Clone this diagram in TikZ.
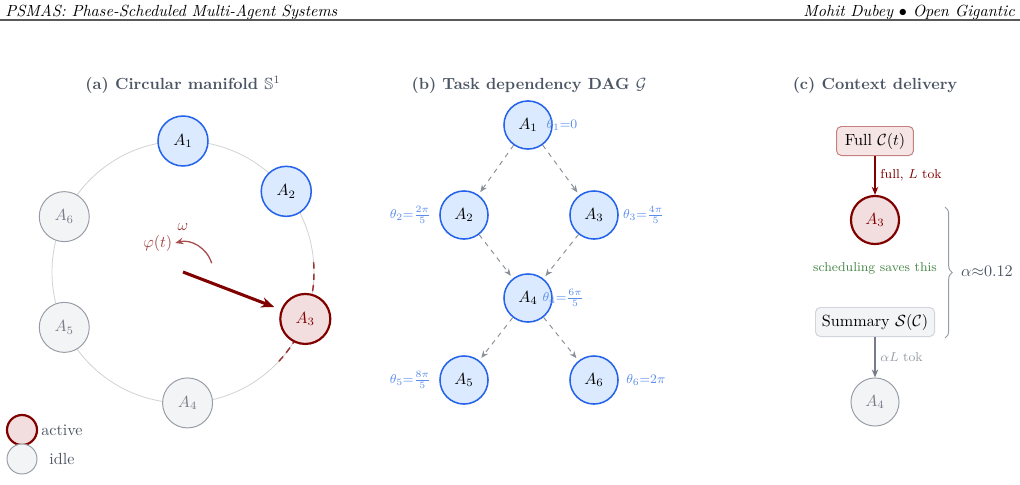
\documentclass[tikz,border=0pt]{standalone}
\usepackage{amsmath,amssymb}
\usetikzlibrary{arrows.meta,positioning,decorations.pathreplacing}
\definecolor{cAct}   {RGB}{128,  0,  0}
\definecolor{bgAct}  {RGB}{242,222,222}
\definecolor{cFull}  {RGB}{196,128,128}
\definecolor{bgFull} {RGB}{246,229,229}
\definecolor{cBlue}  {RGB}{ 37, 99,235}
\definecolor{bgBlue} {RGB}{219,234,254}
\definecolor{cTheta} {RGB}{ 90,140,236}
\definecolor{cIdle}  {RGB}{150,156,166}
\definecolor{tIdle}  {RGB}{118,124,136}
\definecolor{bgIdle} {RGB}{243,244,246}
\definecolor{cSum}   {RGB}{209,213,219}
\definecolor{cTitle} {RGB}{ 75, 85, 99}
\definecolor{cRing}  {RGB}{210,210,210}
\definecolor{cDag}   {RGB}{138,143,153}
\definecolor{cSave}  {RGB}{ 72,136, 72}
\definecolor{cRule}  {RGB}{ 90, 90, 90}

\begin{document}
\begin{tikzpicture}[
  x=0.62pt, y=0.62pt,
  %% ── agent circles ─────────────────────────────────────────────────────
  AB/.style={circle, draw=cBlue, fill=bgBlue, line width=0.95pt,
             minimum size=29.8pt, inner sep=0pt},
  AR/.style={circle, draw=cAct, fill=bgAct, line width=1.35pt,
             minimum size=29.8pt, inner sep=0pt, text=cAct},
  AI/.style={circle, draw=cIdle, fill=bgIdle, line width=0.6pt,
             minimum size=29.8pt, inner sep=0pt, text=tIdle},
  %% ── panel title ───────────────────────────────────────────────────────
  T/.style={font=\bfseries, text=cTitle},
  %% ── dependency edge ───────────────────────────────────────────────────
  E/.style={-{Stealth[length=4.5pt,width=3.6pt]}, dashed, draw=cDag,
            line width=0.6pt, shorten >=2pt},
  %% ── phase label ───────────────────────────────────────────────────────
  Th/.style={font=\footnotesize, text=cTheta, inner sep=0.5pt},
  %% ── phase pointer ─────────────────────────────────────────────────────
  P/.style={-{Stealth[length=8pt,width=6.5pt]}, line width=1.9pt,
            draw=cAct, shorten >=4.5pt},
  %% ── context box ───────────────────────────────────────────────────────
  B/.style={rounded corners=3pt, line width=0.6pt, minimum height=17.5pt,
            inner sep=4pt},
  %% ── small arrow label ─────────────────────────────────────────────────
  L/.style={font=\footnotesize, inner sep=3pt},
]
\useasboundingbox (0,0) rectangle (1020,484);

%% ═══════════════════════════════════════════════════════════════════════
%%  RUNNING HEAD
%% ═══════════════════════════════════════════════════════════════════════

\node[anchor=base west, font=\itshape, inner sep=0pt] (headL) at (5,468)
  {PSMAS: Phase-Scheduled Multi-Agent Systems};
\node[anchor=base east, font=\itshape, inner sep=0pt] (headR) at (1015,468)
  {Mohit Dubey $\bullet$ Open Gigantic};
\draw[cRule, line width=0.8pt] (0,464) -- (1020,464);

%% ═══════════════════════════════════════════════════════════════════════
%%  (a) CIRCULAR MANIFOLD
%% ═══════════════════════════════════════════════════════════════════════

\node[T] (ta) at (183,399) {(a) Circular manifold $\mathbb{S}^1$};

\coordinate (O) at (183,212);
\draw[cRing, line width=0.5pt] (O) circle[radius=131];
\draw[cAct!80, dashed, line width=0.9pt, dash pattern=on 4pt off 3pt]
  ([shift={(-43:131)}]O) arc[start angle=-43, end angle=5, radius=131];

\node[AB, minimum size=31pt] (r1) at ([shift={(90:131)}]O)   {$A_1$};
\node[AB, minimum size=31pt] (r2) at ([shift={(38:131)}]O)   {$A_2$};
\node[AR, minimum size=31pt] (r3) at ([shift={(-21:131)}]O)  {$A_3$};
\node[AI, minimum size=31pt] (r4) at ([shift={(-88:131)}]O)  {$A_4$};
\node[AI, minimum size=31pt] (r5) at ([shift={(-155:131)}]O) {$A_5$};
\node[AI, minimum size=31pt] (r6) at ([shift={(155:131)}]O)  {$A_6$};

%% phase pointer and rotation
\draw[P] (O) -- (r3);
\draw[-{Stealth[length=5pt,width=4pt]}, cAct!70, line width=0.8pt]
  ([shift={(17:30)}]O) arc[start angle=17, end angle=105, radius=30]
  node[left, inner sep=1.5pt, text=cAct!75] (phi) {$\varphi(t)$};
\node[text=cAct!75, inner sep=0pt] (om) at ([shift={(0,45)}]O) {$\omega$};

%% legend
\node[AR, minimum size=18.6pt] (legA) at (22,54) {};
\node[text=cTitle] (legAt) at (62,54) {active};
\node[AI, minimum size=18.6pt] (legI) at (22,25) {};
\node[text=cTitle] (legIt) at (62,25) {idle};

%% ═══════════════════════════════════════════════════════════════════════
%%  (b) TASK DEPENDENCY DAG
%% ═══════════════════════════════════════════════════════════════════════

\node[T] (tb) at (529,399) {(b) Task dependency DAG $\mathcal{G}$};

\node[AB] (d1) at (528,359) {$A_1$};
\node[AB] (d2) at (464,269) {$A_2$};
\node[AB] (d3) at (594,269) {$A_3$};
\node[AB] (d4) at (528,186) {$A_4$};
\node[AB] (d5) at (464,104) {$A_5$};
\node[AB] (d6) at (594,104) {$A_6$};

\draw[E] (d1) -- (d2);
\draw[E] (d1) -- (d3);
\draw[E] (d2) -- (d4);
\draw[E] (d3) -- (d4);
\draw[E] (d4) -- (d5);
\draw[E] (d4) -- (d6);

\node[Th, right=-4.5pt of d1] (th1) {$\theta_1{=}0$};
\node[Th, left=4.5pt of d2]   (th2) {$\theta_2{=}\frac{2\pi}{5}$};
\node[Th, right=2pt of d3]    (th3) {$\theta_3{=}\frac{4\pi}{5}$};
\node[Th, right=-7pt of d4]   (th4) {$\theta_4{=}\frac{6\pi}{5}$};
\node[Th, left=4.5pt of d5]   (th5) {$\theta_5{=}\frac{8\pi}{5}$};
\node[Th, right=4pt of d6]    (th6) {$\theta_6{=}2\pi$};

%% ═══════════════════════════════════════════════════════════════════════
%%  (c) CONTEXT DELIVERY
%% ═══════════════════════════════════════════════════════════════════════

\node[T] (tc) at (875,399) {(c) Context delivery};

\node[B, draw=cFull, fill=bgFull, minimum width=47.7pt] (full) at (875,343)
  {Full $\mathcal{C}(t)$};
\node[AR] (c3) at (875,264) {$A_3$};
\node[B, draw=cSum, fill=bgIdle, minimum width=73.8pt] (sum) at (875,162)
  {Summary $\mathcal{S}(\mathcal{C})$};
\node[AI] (c4) at (875,82) {$A_4$};

\draw[-{Stealth[length=5pt,width=4pt]}, cAct, line width=0.8pt]
  (full) -- node[L, right, text=cAct] {full, $L$ tok} (c3);
\draw[-{Stealth[length=5pt,width=4pt]}, tIdle, line width=0.8pt]
  (sum) -- node[L, right, text=cIdle] {$\alpha L$ tok} (c4);

\node[L, text=cSave] (save) at (875,216) {scheduling saves this};

%% saving brace
\coordinate (brT) at (945,277);
\coordinate (brB) at (945,146);
\draw[cIdle, line width=0.6pt, decorate, decoration={brace, amplitude=4.5pt}]
  (brT) -- (brB);
\node[text=cTitle, inner sep=0pt] (alpha) at (987,213) {$\alpha{\approx}0.12$};

\end{tikzpicture}
\end{document}
